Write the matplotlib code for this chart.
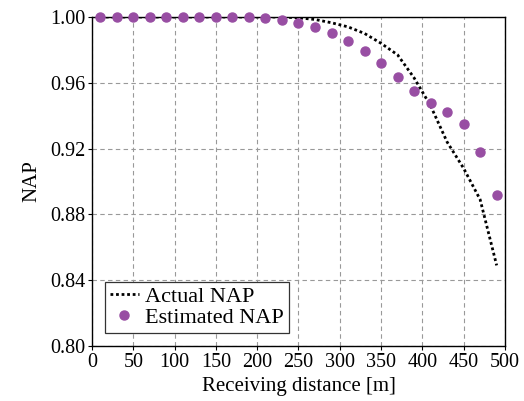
import matplotlib
matplotlib.use('Agg')
from matplotlib import pyplot as plt

# receiving distance [m]
dist = [10, 30, 50, 70, 90, 110, 130, 150, 170, 190, 210, 230, 250,
        270, 290, 310, 330, 350, 370, 390, 410, 430, 450, 470, 490]

# actual NAP (dotted line)
nap_actual = [1.0, 1.0, 1.0, 1.0, 1.0, 1.0, 1.0, 1.0, 1.0, 1.0, 1.0, 1.0, 0.9995,
              0.9985, 0.9965, 0.994, 0.990, 0.984, 0.977, 0.963, 0.946, 0.924,
              0.908, 0.889, 0.849]

# estimated NAP (dots)
nap_est = [1.0, 1.0, 1.0, 1.0, 1.0, 1.0, 1.0, 1.0, 1.0, 1.0, 0.9993, 0.998,
           0.9965, 0.994, 0.990, 0.9855, 0.9795, 0.972, 0.9635, 0.955, 0.948,
           0.9425, 0.935, 0.918, 0.8915]

xticks = [0, 50, 100, 150, 200, 250, 300, 350, 400, 450, 500]
yticks = [0.80, 0.84, 0.88, 0.92, 0.96, 1.00]

plt.rcParams['font.family'] = ['Liberation Serif', 'DejaVu Serif']

fig = plt.figure(figsize=(5.24, 4.01), dpi=100)
ax = fig.add_axes([0.1756, 0.1372, 0.788, 0.8204])

ax.plot(dist, nap_actual, color='black', linestyle=(0, (1, 1)), linewidth=2.0,
        label='Actual NAP', zorder=3)
ax.plot(dist, nap_est, linestyle='none', marker='o', markersize=6.5,
        color='#984ea3', label='Estimated NAP', zorder=4, clip_on=False)

ax.set_xlim(0, 500)
ax.set_ylim(0.80, 1.00)
ax.set_xticks(xticks)
ax.set_yticks(yticks)
ax.set_yticklabels(['%.2f' % v for v in yticks])
ax.tick_params(direction='out', length=3, width=0.8, labelsize=14.5, pad=2)
ax.grid(True, color='#999999', linestyle=(0, (4, 3)), linewidth=0.8)
for s in ax.spines.values():
    s.set_linewidth(1.0)
    s.set_color('black')

ax.set_xlabel('Receiving distance [m]', fontsize=15, labelpad=4)
ax.set_ylabel('NAP', fontsize=15, labelpad=6)

leg = ax.legend(loc='lower left', fontsize=16, fancybox=False, framealpha=1,
                edgecolor='#333333', handlelength=1.3, handletextpad=0.3,
                borderpad=0.2, labelspacing=0.05, borderaxespad=0.6)
leg.get_frame().set_linewidth(0.9)

fig.savefig('out.png', dpi=100)
